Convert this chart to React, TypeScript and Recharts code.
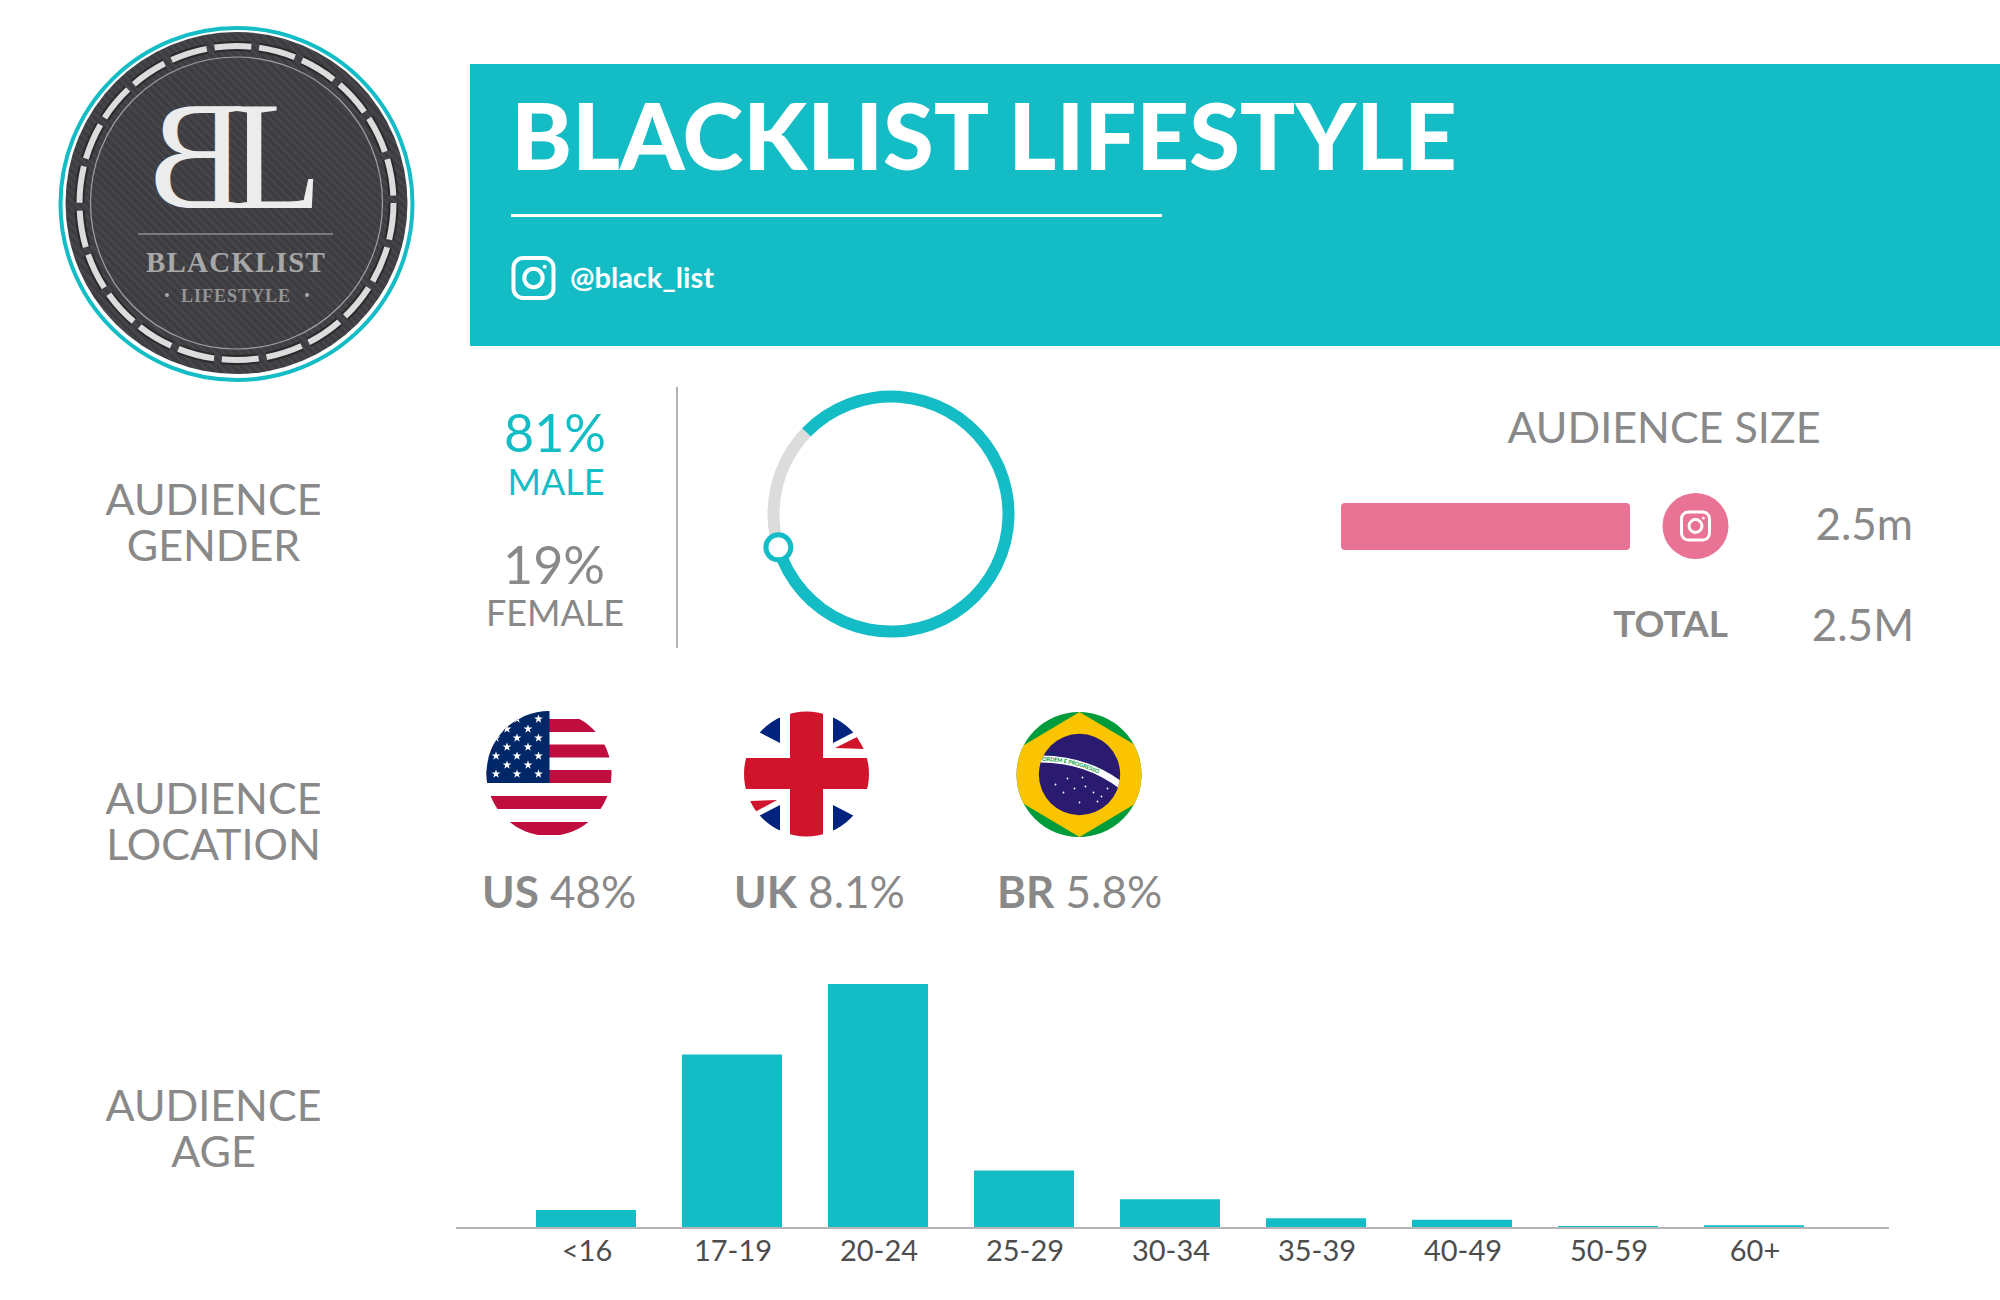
import { BarChart, Bar, XAxis, YAxis, PieChart, Pie, Cell, Sector } from 'recharts'

const TEAL = '#14bdc5'
const PINK = '#e97394'
const GREY = '#898989'

const ageGroups = ['<16', '17-19', '20-24', '25-29', '30-34', '35-39', '40-49', '50-59', '60+']
const ageShares = [3.3, 32, 45, 10.6, 5.3, 1.8, 1.5, 0.35, 0.5]
const ringLabels = ['Female', 'Male']
const ringShares = [16.8, 83.2] // the ring as drawn, slightly off the printed 19/81
const platforms = ['Instagram']
const platformSizes = [2.5]
const countries = [
  { code: 'US', share: '48%', x: 482 },
  { code: 'UK', share: '8.1%', x: 734 },
  { code: 'BR', share: '5.8%', x: 997 },
]

const ageData = ageGroups.map((age, i) => ({ age, share: ageShares[i] }))
const ringData = ringLabels.map((name, i) => ({ name, value: ringShares[i] }))
const sizeData = platforms.map((platform, i) => ({ platform, size: platformSizes[i] }))

function RingSector(props: any) {
  const { cx, cy, innerRadius, outerRadius, endAngle, index } = props
  const rad = (endAngle * Math.PI) / 180
  const r = (innerRadius + outerRadius) / 2
  return (
    <g>
      <Sector {...props} />
      {index === 1 && (
        <circle cx={cx + r * Math.cos(rad)} cy={cy - r * Math.sin(rad)} r={12.5} fill="#fff" stroke={TEAL} strokeWidth={5} />
      )}
    </g>
  )
}

function InstaIcon({ x, y, size, color, sw }: { x: number; y: number; size: number; color: string; sw: number }) {
  return (
    <g fill="none" stroke={color} strokeWidth={sw}>
      <rect x={x - size / 2} y={y - size / 2} width={size} height={size} rx={size * 0.24} />
      <circle cx={x} cy={y} r={size * 0.23} />
      <circle cx={x + size * 0.28} cy={y - size * 0.28} r={size * 0.05} fill={color} stroke="none" />
    </g>
  )
}

function Logo() {
  return (
    <g>
      <defs>
        <pattern id="carbon" width="6" height="6" patternUnits="userSpaceOnUse" patternTransform="rotate(45)">
          <rect width="6" height="6" fill="#3d3c40" />
          <rect width="6" height="2.5" fill="#47464a" />
        </pattern>
      </defs>
      <circle cx={236.5} cy={204} r={176} fill="#fff" stroke={TEAL} strokeWidth={4} />
      <circle cx={236.5} cy={203} r={171} fill="url(#carbon)" />
      <circle cx={236.5} cy={203} r={157} fill="none" stroke="#2a2a2c" strokeWidth={10} strokeDasharray="37 7.84" />
      <circle cx={236.5} cy={203} r={157} fill="none" stroke="#dcdcdc" strokeWidth={6} strokeDasharray="37 7.84" />
      <circle cx={236.5} cy={203} r={146} fill="none" stroke="#a0a0a0" strokeWidth={1.2} />
      <g fontFamily="'Liberation Serif', serif" fill="#ececec" fontSize={154}>
        <text transform="translate(245 208) scale(-0.94 1)">B</text>
        <text transform="translate(230 208) scale(0.98 1)">L</text>
      </g>
      <line x1={138} x2={333} y1={234} y2={234} stroke="#7b7a7d" strokeWidth={2} />
      <g fontFamily="'Liberation Serif', serif" textAnchor="middle">
        <text x={236} y={272} fontSize={29} fill="#a8a8a8" fontWeight={700} letterSpacing={1.2}>BLACKLIST</text>
        <text x={236} y={302} fontSize={18} fill="#949494" fontWeight={700} letterSpacing={1}>LIFESTYLE</text>
      </g>
      <circle cx={167} cy={295} r={2} fill="#aaa" />
      <circle cx={307} cy={295} r={2} fill="#aaa" />
    </g>
  )
}

function Star({ x, y, r }: { x: number; y: number; r: number }) {
  const pts: string[] = []
  for (let i = 0; i < 10; i++) {
    const a = -Math.PI / 2 + (i * Math.PI) / 5
    const d = i % 2 ? r * 0.4 : r
    pts.push(`${x + d * Math.cos(a)},${y + d * Math.sin(a)}`)
  }
  return <polygon points={pts.join(' ')} fill="#fff" />
}

function UsFlag() {
  const stripes = [719, 744.5, 770, 796, 822]
  const starRows = [719, 729, 738, 747, 756, 765, 774]
  return (
    <g clipPath="url(#clipUs)">
      {stripes.map((y) => (
        <rect key={y} x={486} y={y} width={126} height={13} fill="#bf0d3e" />
      ))}
      <rect x={486} y={711} width={63.5} height={72} fill="#002868" />
      {starRows.map((y, r) =>
        (r % 2 ? [507, 528] : [496, 517, 538.5]).map((x) => <Star key={`${x}-${y}`} x={x} y={y} r={4.6} />),
      )}
    </g>
  )
}

function UkFlag() {
  return (
    <g clipPath="url(#clipUk)">
      <polygon points="780,712 780,743 755,730 765,712" fill="#00247d" />
      <polygon points="833,712 833,743 858,730 848,712" fill="#00247d" />
      <polygon points="780,836 780,805 755,818 765,836" fill="#00247d" />
      <polygon points="833,836 833,805 858,818 848,836" fill="#00247d" />
      <polygon points="835,748 857,737 864,749" fill="#cf142b" />
      <polygon points="750,801 777,800 755,812" fill="#cf142b" />
      <rect x={790} y={711} width={33} height={128} fill="#cf142b" />
      <rect x={743} y={758} width={128} height={31} fill="#cf142b" />
    </g>
  )
}

function BrFlag() {
  const cx = 1079.5
  const cy = 774.5
  const dots = [[-24, 10], [-16, 18], [-5, 14], [3, 3], [6, 12], [14, 18], [22, 22], [28, 14], [18, 27], [0, 28], [-12, 4]]
  return (
    <g clipPath="url(#clipBr)">
      <rect x={1015} y={710} width={130} height={130} fill="#009b3a" />
      <polygon points={`${cx},712 ${cx + 105},${cy} ${cx},837 ${cx - 105},${cy}`} fill="#fac400" />
      <circle cx={cx} cy={cy} r={40.7} fill="#2a1a70" />
      <g clipPath="url(#clipBrDisc)">
        <path id="brBand" d="M1038,759 Q1085,758 1122,786" fill="none" stroke="#fff" strokeWidth={7} />
        <text fontSize={5.5} fontWeight={700} fill="#009b3a" dy={2}>
          <textPath href="#brBand" startOffset="4">ORDEM E PROGRESSO</textPath>
        </text>
      </g>
      {dots.map(([dx, dy]) => (
        <circle key={`${dx}-${dy}`} cx={cx + dx} cy={cy + dy} r={0.9} fill="#fff" />
      ))}
    </g>
  )
}

export default function App() {
  return (
    <div style={{ position: 'absolute', left: 0, top: 0, width: 2000, height: 1300, background: '#fff', overflow: 'hidden' }}>
      <svg width={2000} height={1300} style={{ position: 'absolute', left: 0, top: 0, fontFamily: 'Lato' }}>
        <defs>
          <clipPath id="clipUs"><circle cx={549} cy={773.5} r={62.5} /></clipPath>
          <clipPath id="clipUk"><circle cx={806.5} cy={774} r={62.5} /></clipPath>
          <clipPath id="clipBr"><circle cx={1079} cy={774.5} r={62.5} /></clipPath>
          <clipPath id="clipBrDisc"><circle cx={1079.5} cy={774.5} r={40.7} /></clipPath>
        </defs>

        <Logo />

        <rect x={470} y={64} width={1530} height={282} fill={TEAL} />
        <text x={511} y={170} fontSize={92} fontWeight={900} fill="#fff">BLACKLIST LIFESTYLE</text>
        <line x1={511} x2={1162} y1={215.5} y2={215.5} stroke="#fff" strokeWidth={3} />
        <InstaIcon x={533.5} y={278} size={40} color="#fff" sw={4} />
        <text x={570} y={288} fontSize={29} fontWeight={700} fill="#fff">@black_list</text>

        <g fontSize={43} fill={GREY} textAnchor="middle" fontWeight={400}>
          <text x={213.5} y={515}>AUDIENCE</text>
          <text x={213.5} y={561}>GENDER</text>
          <text x={213.5} y={814}>AUDIENCE</text>
          <text x={213.5} y={860}>LOCATION</text>
          <text x={213.5} y={1121}>AUDIENCE</text>
          <text x={213.5} y={1167}>AGE</text>
        </g>

        <g textAnchor="middle" fontWeight={400}>
          <text x={555} y={452} fontSize={52} fill={TEAL}>81%</text>
          <text x={556} y={495} fontSize={36} fill={TEAL}>MALE</text>
          <text x={554} y={584} fontSize={52} fill={GREY}>19%</text>
          <text x={555} y={626} fontSize={36} fill={GREY}>FEMALE</text>
        </g>
        <line x1={677} x2={677} y1={387} y2={648} stroke="#b3b3b3" strokeWidth={2} />

        <text x={1664} y={443} fontSize={43} fill={GREY} textAnchor="middle">AUDIENCE SIZE</text>
        <circle cx={1695.5} cy={526} r={33} fill={PINK} />
        <InstaIcon x={1695.5} y={526} size={28} color="#fff" sw={3} />
        <text x={1913} y={540} fontSize={44} fontWeight={400} fill={GREY} textAnchor="end">2.5m</text>
        <text x={1728} y={637} fontSize={37} fontWeight={700} fill={GREY} textAnchor="end">TOTAL</text>
        <text x={1914} y={641} fontSize={44} fontWeight={400} fill={GREY} textAnchor="end">2.5M</text>

        <UsFlag />
        <UkFlag />
        <BrFlag />
        {countries.map((c) => (
          <text key={c.code} x={c.x} y={908} fontSize={44} fill={GREY}>
            <tspan fontWeight={700}>{c.code}</tspan>
            <tspan fontWeight={400}> {c.share}</tspan>
          </text>
        ))}
      </svg>

      <div style={{ position: 'absolute', left: 741, top: 364 }}>
        <PieChart width={300} height={300} margin={{ top: 0, right: 0, bottom: 0, left: 0 }}>
          <Pie
            data={ringData}
            dataKey="value"
            nameKey="name"
            innerRadius={111.5}
            outerRadius={123.5}
            startAngle={196.5}
            endAngle={-163.5}
            stroke="none"
            shape={RingSector}
            isAnimationActive={false}
          >
            <Cell fill="#dcdcdc" />
            <Cell fill={TEAL} />
          </Pie>
        </PieChart>
      </div>

      <div style={{ position: 'absolute', left: 1341, top: 503 }}>
        <BarChart width={289} height={47} data={sizeData} layout="vertical" barCategoryGap={0} margin={{ top: 0, right: 0, bottom: 0, left: 0 }}>
          <XAxis type="number" domain={[0, 2.5]} hide />
          <YAxis type="category" dataKey="platform" hide />
          <Bar dataKey="size" fill={PINK} radius={4} isAnimationActive={false} />
        </BarChart>
      </div>

      <div style={{ position: 'absolute', left: 456, top: 984 }}>
        <BarChart width={1433} height={300} data={ageData} barSize={100} margin={{ top: 0, right: 0, bottom: 0, left: 0 }}>
          <XAxis
            dataKey="age"
            height={56}
            interval={0}
            padding={{ left: 57, right: 62 }}
            axisLine={{ stroke: '#b5b5b5', strokeWidth: 2 }}
            tickLine={false}
            tickMargin={6}
            tick={{ fontSize: 29, fill: '#4d4d4d', fontFamily: 'Lato', dx: 1 }}
          />
          <YAxis type="number" domain={[0, 45]} hide />
          <Bar dataKey="share" fill={TEAL} isAnimationActive={false} />
        </BarChart>
      </div>
    </div>
  )
}
